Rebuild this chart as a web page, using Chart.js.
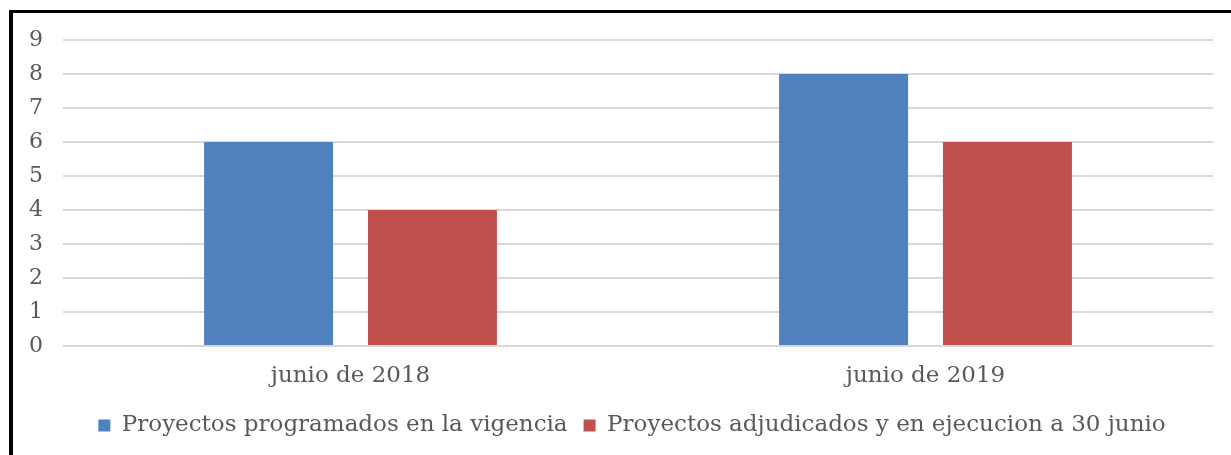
<!DOCTYPE html>
<html>
<head>
<meta charset="utf-8">
<script src="https://cdn.jsdelivr.net/npm/chart.js@4.4.0/dist/chart.umd.min.js"></script>
<style>
  html, body { margin: 0; padding: 0; background: #fff; }
  #wrap { position: relative; width: 1231px; height: 455px; overflow: hidden; }
  #frame { position: absolute; left: 9px; top: 10px; width: 1300px; height: 500px;
           border-left: 4px solid #000; border-top: 3px solid #000; pointer-events: none; }
  canvas { position: absolute; left: 0; top: 0; }
</style>
</head>
<body>
<div id="wrap">
  <canvas id="chart" width="1231" height="455"></canvas>
  <div id="frame"></div>
</div>
<script>
const categories = ['junio de 2018', 'junio de 2019'];
const programados = [6, 8];
const adjudicados = [4, 6];
const seriesNames = ['Proyectos programados en la vigencia', 'Proyectos adjudicados y en ejecucion a 30 junio'];

const fontFamily = '"DejaVu Serif", "Liberation Serif", serif';
const textColor = '#595959';

// legend in the original sits a bit right of the canvas centre
const legendShift = {
    id: 'legendShift',
    afterLayout(chart) {
        if (chart.legend) chart.legend.left = chart.chartArea.left - 12;
    }
};

document.addEventListener('DOMContentLoaded', () => {
    const ctx = document.getElementById('chart');
    new Chart(ctx, {
        type: 'bar',
        data: {
            labels: categories,
            datasets: [
                {
                    label: seriesNames[0],
                    data: programados,
                    backgroundColor: '#4F81BD'
                },
                {
                    label: seriesNames[1],
                    data: adjudicados,
                    backgroundColor: '#C0504D'
                }
            ]
        },
        plugins: [legendShift],
        options: {
            responsive: false,
            animation: false,
            devicePixelRatio: 1,
            categoryPercentage: 0.57,
            barPercentage: 0.787,
            layout: { padding: { left: 14, right: 18, top: 40, bottom: 8 } },
            plugins: {
                tooltip: { enabled: false },
                legend: {
                    position: 'bottom',
                    labels: {
                        boxWidth: 12,
                        boxHeight: 12,
                        padding: 16,
                        color: textColor,
                        font: { family: fontFamily, size: 23 }
                    }
                }
            },
            scales: {
                x: {
                    grid: { display: false },
                    border: { display: false },
                    ticks: {
                        color: textColor,
                        padding: 8,
                        font: { family: fontFamily, size: 23 }
                    },
                    afterFit: (scale) => { scale.height = 52; }
                },
                y: {
                    min: 0,
                    max: 9,
                    grid: { color: '#D9D9D9', lineWidth: 2, drawTicks: false },
                    border: { display: false },
                    ticks: {
                        stepSize: 1,
                        color: textColor,
                        padding: 20,
                        font: { family: fontFamily, size: 22 }
                    },
                    afterFit: (scale) => { scale.width = 49; }
                }
            }
        }
    });
});
</script>
</body>
</html>
